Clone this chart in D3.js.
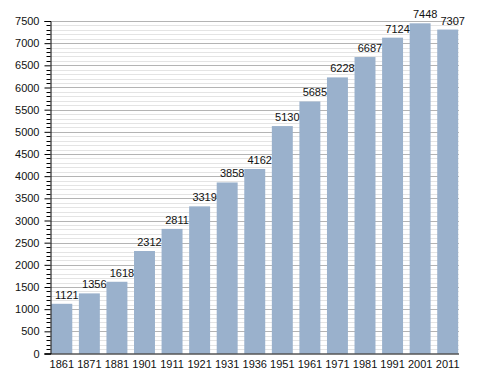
<!DOCTYPE html>
<html>
<head>
<meta charset="utf-8">
<script src="https://cdn.jsdelivr.net/npm/d3@7"></script>
<style>
  body { margin: 0; background: #fff; }
  text { font-family: "Liberation Sans", Arial, sans-serif; font-size: 11px; fill: #111; }
</style>
</head>
<body>
<div id="chart"></div>
<script>
const years = ['1861', '1871', '1881', '1901', '1911', '1921', '1931', '1936',
               '1951', '1961', '1971', '1981', '1991', '2001', '2011'];
const population = [1121, 1356, 1618, 2312, 2811, 3319, 3858, 4162,
                    5130, 5685, 6228, 6687, 7124, 7448, 7307];
const yTicks = d3.range(0, 7501, 500);
const yMinor = d3.range(0, 7501, 100);

const w = 488;
const h = 373;
const plotLeft = 50.5, plotRight = 459, plotTop = 21, plotBottom = 353.5;

const svg = d3.select('#chart')
  .append('svg')
  .attr('width', w)
  .attr('height', h);

const x = d3.scaleBand()
  .domain(years)
  .range([plotLeft, plotRight])
  .paddingInner(0.24)
  .paddingOuter(0.03);

const y = d3.scaleLinear()
  .domain([0, 7500])
  .range([plotBottom, plotTop]);

// minor grid
svg.append('g').selectAll('line')
  .data(yMinor.filter(v => v % 500 !== 0))
  .enter().append('line')
  .attr('x1', plotLeft).attr('x2', plotRight)
  .attr('y1', d => Math.round(y(d)) + 0.5).attr('y2', d => Math.round(y(d)) + 0.5)
  .attr('stroke', '#e4e4e4');

// major grid
svg.append('g').selectAll('line')
  .data(yTicks.filter(v => v > 0))
  .enter().append('line')
  .attr('x1', plotLeft).attr('x2', plotRight)
  .attr('y1', d => Math.round(y(d)) + 0.5).attr('y2', d => Math.round(y(d)) + 0.5)
  .attr('stroke', '#b4b4b4');

// bars
svg.append('g').selectAll('rect')
  .data(population)
  .enter().append('rect')
  .attr('x', (d, i) => x(years[i]))
  .attr('y', d => y(d))
  .attr('width', x.bandwidth())
  .attr('height', d => y(0) - y(d))
  .attr('fill', '#9ab1cc');

// value labels
svg.append('g').selectAll('text')
  .data(population)
  .enter().append('text')
  .attr('x', (d, i) => x(years[i]) + x.bandwidth() / 2 + 5)
  .attr('y', d => y(d) - 5)
  .attr('text-anchor', 'middle')
  .text(d => d);

// y axis
const yAxis = svg.append('g')
  .attr('transform', `translate(${plotLeft},0)`)
  .call(d3.axisLeft(y).tickValues(yTicks).tickSize(6).tickPadding(5).tickFormat(d3.format('d')));
yAxis.select('.domain').attr('stroke', '#000');
yAxis.selectAll('.tick line').attr('stroke', '#000');
yAxis.selectAll('.tick text').style('font-size', '11px');

svg.append('g')
  .attr('transform', `translate(${plotLeft},0)`)
  .selectAll('line')
  .data(yMinor.filter(v => v % 500 !== 0))
  .enter().append('line')
  .attr('x1', -4).attr('x2', 0)
  .attr('y1', d => Math.round(y(d)) + 0.5).attr('y2', d => Math.round(y(d)) + 0.5)
  .attr('stroke', '#000');

// x axis
const xAxis = svg.append('g')
  .attr('transform', `translate(0,${plotBottom})`)
  .call(d3.axisBottom(x).tickSize(0).tickPadding(7));
xAxis.select('.domain').attr('d', `M${plotLeft - 6},0.5H${plotRight}`).attr('stroke', '#000');
xAxis.selectAll('.tick text').style('font-size', '11px');
</script>
</body>
</html>
